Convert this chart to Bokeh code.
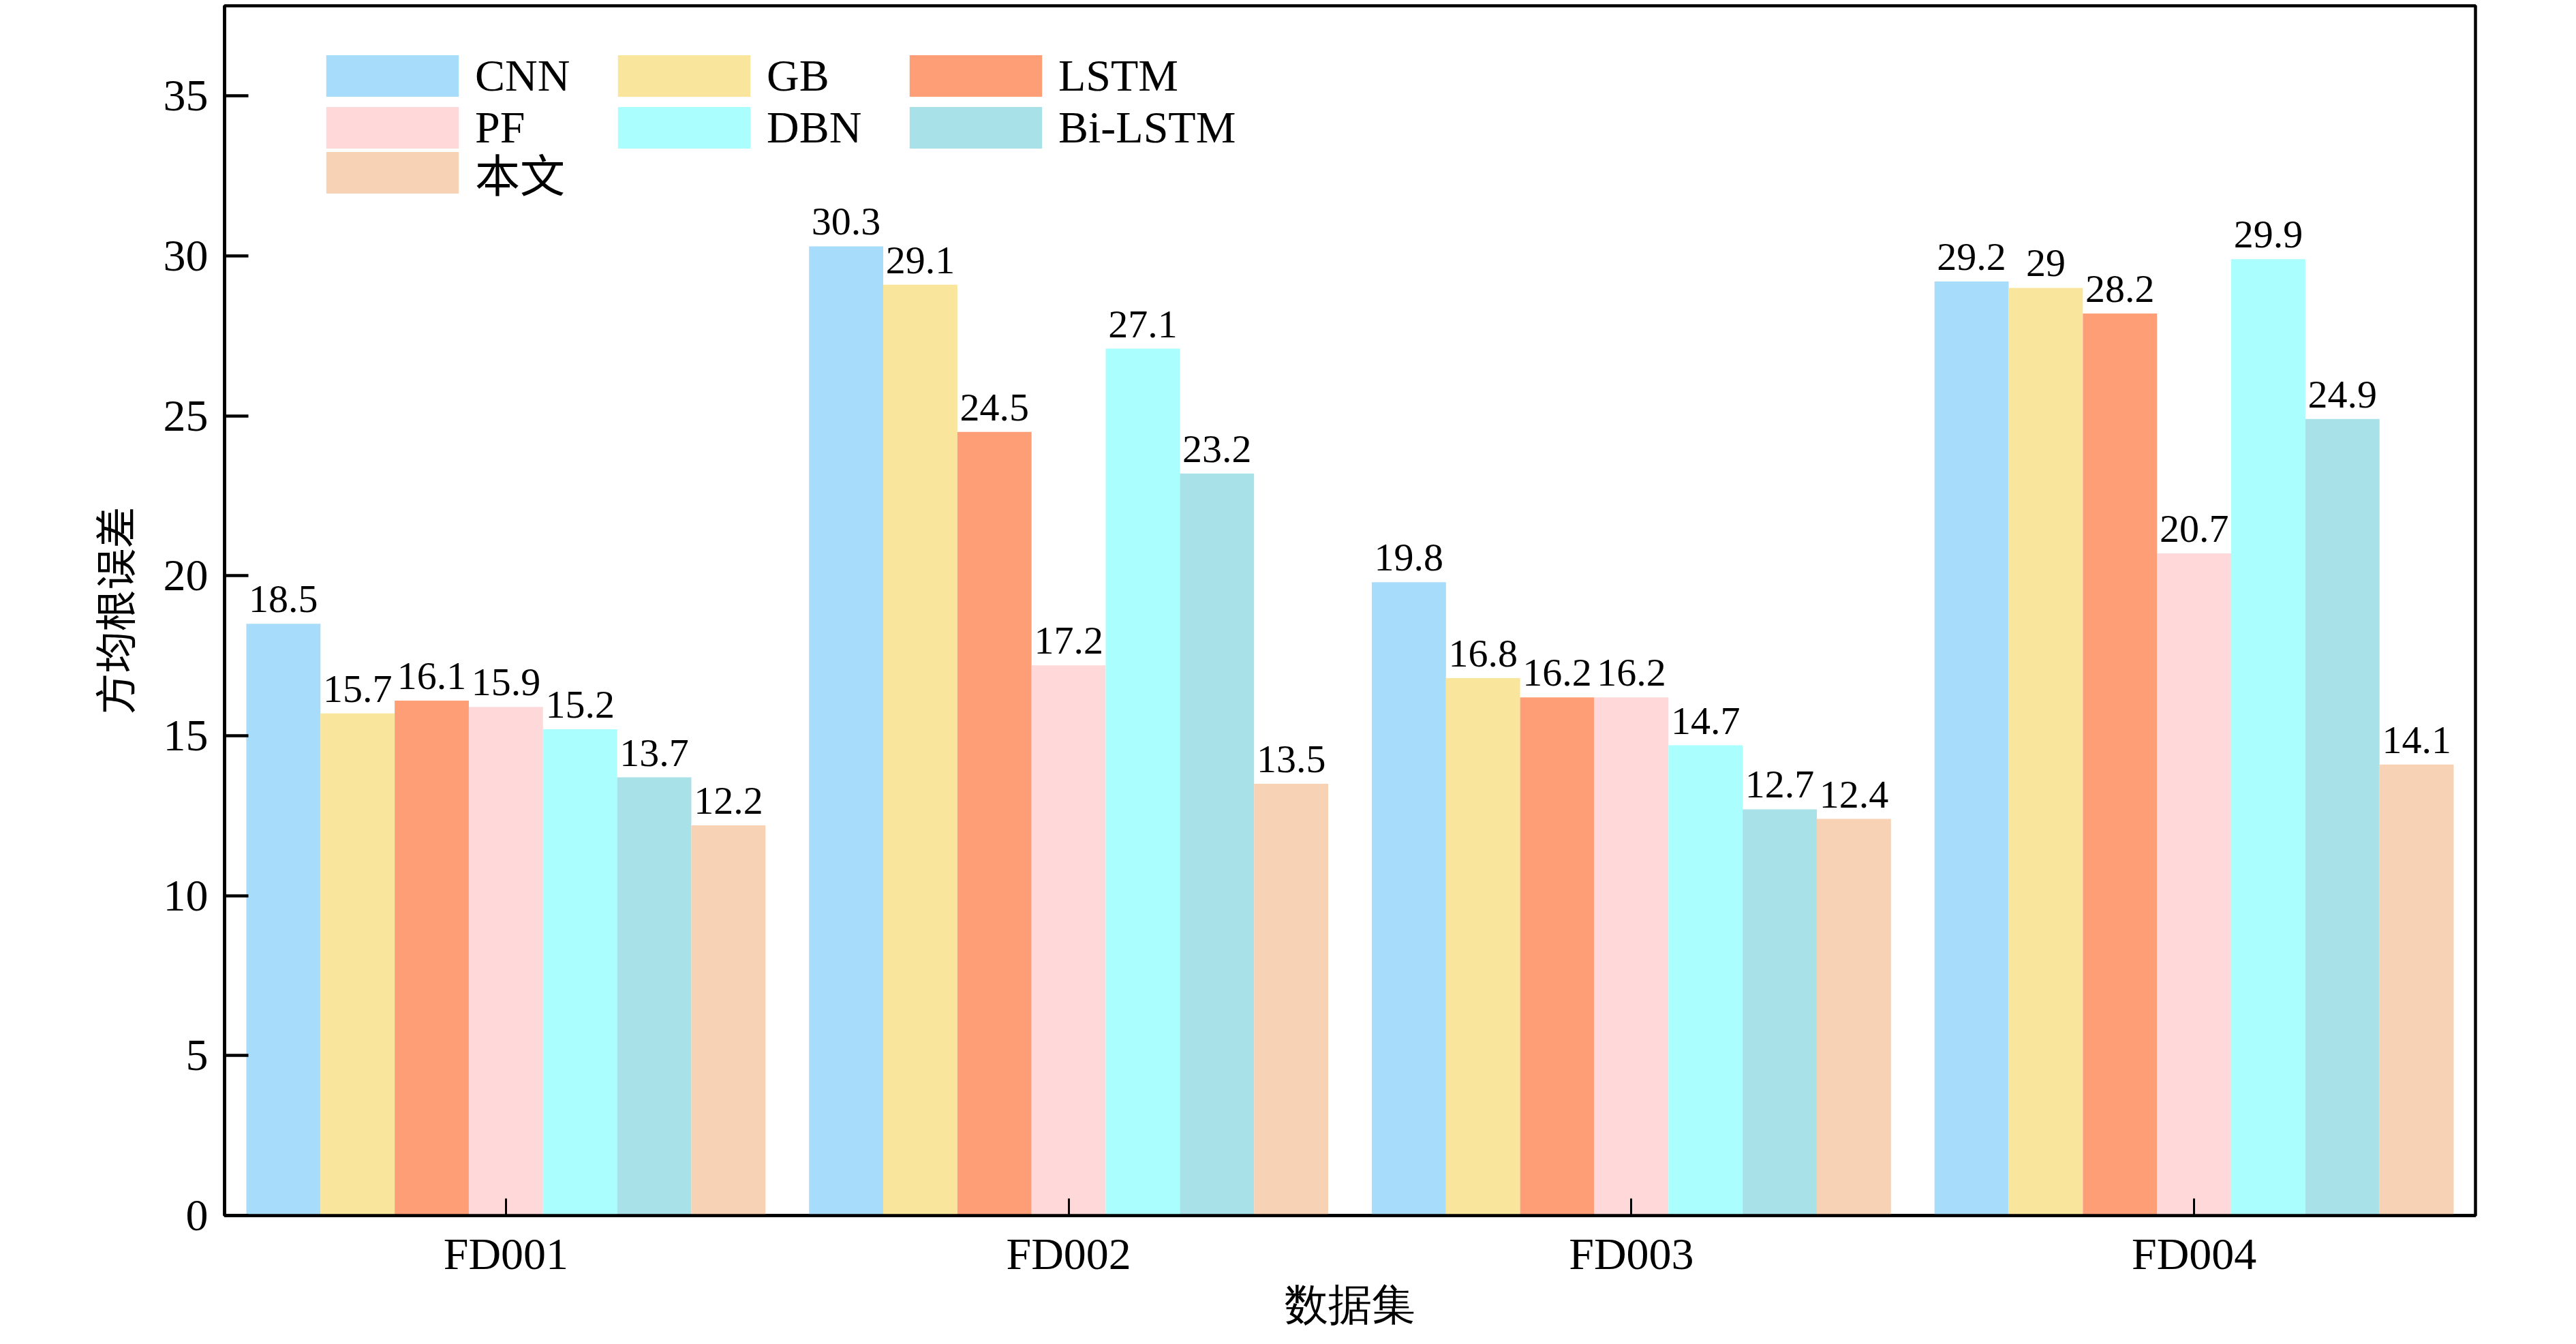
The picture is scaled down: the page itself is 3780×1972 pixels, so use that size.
from bokeh.plotting import figure
from bokeh.models import ColumnDataSource, Range1d, FixedTicker, Legend, LegendItem, LabelSet
from bokeh.transform import dodge
from bokeh.embed import file_html
from bokeh.resources import INLINE

# ---- data ----
datasets = ["FD001", "FD002", "FD003", "FD004"]
methods = ["CNN", "GB", "LSTM", "PF", "DBN", "Bi-LSTM", "本文"]
cnn = [18.5, 30.3, 19.8, 29.2]
gb = [15.7, 29.1, 16.8, 29.0]
lstm = [16.1, 24.5, 16.2, 28.2]
pf = [15.9, 17.2, 16.2, 20.7]
dbn = [15.2, 27.1, 14.7, 29.9]
bilstm = [13.7, 23.2, 12.7, 24.9]
ours = [12.2, 13.5, 12.4, 14.1]
series = [cnn, gb, lstm, pf, dbn, bilstm, ours]
colors = ["#A7DCFB", "#FAE59C", "#FE9E77", "#FFD9D9", "#ABFEFE", "#A8E2E8", "#F7D2B4"]
y_ticks = [0, 5, 10, 15, 20, 25, 30, 35]
x_title = "数据集"
y_title = "方均根误差"

SERIF = "Liberation Serif"
MIXED = "Liberation Serif, Noto Sans CJK SC"
W = 0.1318

p = figure(width=3764, height=1956, x_range=datasets, y_range=Range1d(0, 37.82),
           output_backend="svg", toolbar_location=None,
           min_border_left=329, min_border_right=132, min_border_top=8, min_border_bottom=173)
p.x_range.range_padding = 0

items = []
for i, (name, vals, col) in enumerate(zip(methods, series, colors)):
    src = ColumnDataSource(dict(x=datasets, y=vals, label=[f"{v:g}" for v in vals]))
    off = (i - 3) * W
    r = p.vbar(x=dodge("x", off, range=p.x_range), top="y", width=W, source=src,
               fill_color=col, line_color=None)
    p.add_layout(LabelSet(x=dodge("x", off, range=p.x_range), y="y", text="label", source=src,
                          text_align="center", text_baseline="alphabetic", y_offset=17,
                          text_font=SERIF, text_font_size="58px", text_color="black"))
    items.append(LegendItem(label=name, renderers=[r]))

common = dict(margin=0, padding=0, spacing=0, glyph_width=243, glyph_height=76,
              label_standoff=0, label_width=185,
              label_text_font=MIXED, label_text_font_size="66px",
              label_text_baseline="middle", label_text_color="black",
              border_line_color=None, background_fill_alpha=0)
legend_a = Legend(items=items[:6], orientation="horizontal", ncols=3,
                  location=(125, 1558), label_height=76, **common)
legend_b = Legend(items=items[6:], orientation="horizontal", ncols=3,
                  location=(125, 1478), label_height=104, **common)
p.add_layout(legend_a)
p.add_layout(legend_b)

p.xgrid.visible = False
p.ygrid.visible = False
p.outline_line_color = "black"
p.outline_line_width = 4.5
p.background_fill_color = "white"

xa = p.xaxis[0]
xa.axis_line_width = 4.5
xa.major_tick_in = 25
xa.major_tick_out = 0
xa.major_tick_line_width = 3
xa.major_label_text_font = SERIF
xa.major_label_text_font_size = "66px"
xa.major_label_text_color = "black"
xa.major_label_standoff = 19
xa.axis_label = x_title
xa.axis_label_text_font = SERIF
xa.axis_label_text_font_size = "64px"
xa.axis_label_text_font_style = "normal"
xa.axis_label_text_color = "black"
xa.axis_label_standoff = 0

ya = p.yaxis[0]
ya.ticker = FixedTicker(ticks=y_ticks)
ya.axis_line_width = 4.5
ya.major_tick_in = 35
ya.major_tick_out = 0
ya.major_tick_line_width = 4.5
ya.minor_tick_line_color = None
ya.major_label_text_font = SERIF
ya.major_label_text_font_size = "66px"
ya.major_label_text_color = "black"
ya.major_label_standoff = 24
ya.axis_label = y_title
ya.axis_label_text_font = MIXED
ya.axis_label_text_font_size = "61px"
ya.axis_label_text_font_style = "normal"
ya.axis_label_text_color = "black"
ya.axis_label_standoff = 31

with open("out.html", "w") as f:
    f.write(file_html(p, INLINE))
